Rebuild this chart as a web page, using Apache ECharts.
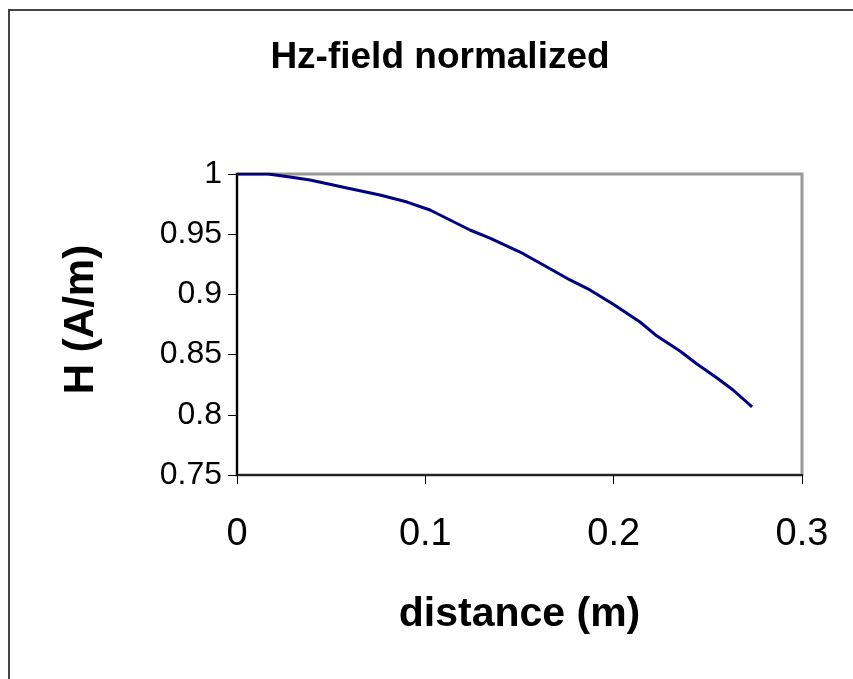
<!DOCTYPE html>
<html>
<head>
<meta charset="utf-8">
<script src="https://cdn.jsdelivr.net/npm/echarts@6/dist/echarts.min.js"></script>
<style>
html,body{margin:0;padding:0;background:#fff;}
#chart{width:853px;height:679px;}
</style>
</head>
<body>
<div id="chart"></div>
<script>
const titleText = "Hz-field normalized";
const xAxisName = "distance (m)";
const yAxisName = "H (A/m)";
const distance = [0, 0.0165, 0.0281, 0.0388, 0.0584, 0.0759, 0.0903, 0.1025, 0.1131, 0.1237, 0.1343, 0.1503, 0.1646, 0.1768, 0.1874, 0.1996, 0.2140, 0.2230, 0.2352, 0.2442, 0.2549, 0.2634, 0.2735];
const field    = [1.0, 1.0, 0.9975, 0.9950, 0.9884, 0.9826, 0.9767, 0.9701, 0.9618, 0.9535, 0.9468, 0.9352, 0.9228, 0.9120, 0.9037, 0.8920, 0.8771, 0.8654, 0.8530, 0.8422, 0.8306, 0.8206, 0.8065];
const xTicks = [0, 0.1, 0.2, 0.3];
const yTicks = [0.75, 0.8, 0.85, 0.9, 0.95, 1];

const chart = echarts.init(document.getElementById('chart'));
const font = 'Liberation Sans, Arial, sans-serif';
chart.setOption({
  animation: false,
  backgroundColor: '#fff',
  graphic: [{
    type: 'rect', silent: true,
    shape: {x: 9, y: 10, width: 900, height: 720},
    style: {fill: 'none', stroke: '#444', lineWidth: 2}
  }],
  title: {
    text: titleText, left: 435, top: 34, textAlign: 'center',
    textStyle: {fontFamily: font, fontWeight: 'bold', fontSize: 37, color: '#000'}
  },
  grid: {left: 237, top: 174, right: 51, bottom: 204, show: true, borderColor: '#999', borderWidth: 3, backgroundColor: '#fff'},
  xAxis: {
    type: 'value', min: xTicks[0], max: xTicks[xTicks.length-1], interval: 0.1,
    name: xAxisName, nameLocation: 'middle', nameGap: 119,
    nameTextStyle: {fontFamily: font, fontWeight: 'bold', fontSize: 41, color: '#000'},
    axisLine: {show: true, lineStyle: {color: '#222', width: 2}},
    axisTick: {show: true, length: 9, lineStyle: {color: '#000'}},
    axisLabel: {fontFamily: font, fontSize: 38, color: '#000', margin: 41},
    splitLine: {show: false}
  },
  yAxis: {
    type: 'value', min: yTicks[0], max: yTicks[yTicks.length-1], interval: 0.05,
    name: yAxisName, nameLocation: 'middle', nameGap: 135, nameRotate: 90,
    nameTextStyle: {fontFamily: font, fontWeight: 'bold', fontSize: 42, color: '#000', padding: [0, 0, 0, 10]},
    axisLine: {show: true, lineStyle: {color: '#000', width: 2}},
    axisTick: {show: true, length: 9, lineStyle: {color: '#000'}},
    axisLabel: {fontFamily: font, fontSize: 32, color: '#000', margin: 15,
      formatter: v => String(+v.toFixed(2))},
    splitLine: {show: false}
  },
  series: [{
    type: 'line', data: distance.map((d, i) => [d, field[i]]),
    showSymbol: false, symbol: 'none', smooth: false,
    lineStyle: {color: '#000080', width: 3}
  }]
});
</script>
</body>
</html>
